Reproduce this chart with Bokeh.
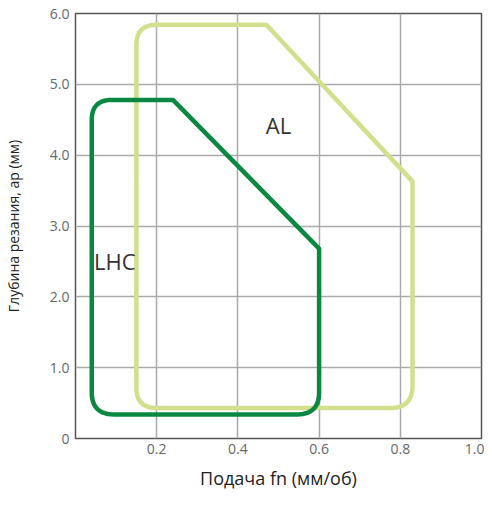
import numpy as np
from bokeh.plotting import figure
from bokeh.models import FixedTicker, CustomJSTickFormatter, ColumnDataSource
from bokeh.core.properties import value
from bokeh.embed import file_html
from bokeh.resources import INLINE

# ---- data ----
lhc_x = [0.04, 0.04, 0.24, 0.60, 0.60]
lhc_y = [0.34, 4.78, 4.78, 2.68, 0.34]
al_x = [0.15, 0.15, 0.47, 0.83, 0.83]
al_y = [0.43, 5.84, 5.84, 3.63, 0.43]
label_text = ["AL", "LHC"]
label_x = [0.50, 0.097]
label_y = [4.42, 2.50]
x_ticks = [0.2, 0.4, 0.6, 0.8, 1.0]
y_ticks = [0, 1, 2, 3, 4, 5, 6]

# ---- style ----
W, H = 484, 492
BL, BR, BT, BB = 71, 3, 13, 46
SX = (W - BL - 10) / 1.0
SY = (H - BT - 55) / 6.0
lhc_r = [22, 20, 0, 0, 22]
al_r = [20, 20, 0, 0, 22]
FONT = "Open Sans"


def rounded(xs, ys, radii, n=14):
    pts = list(zip(xs, ys))
    N = len(pts)
    ox, oy = [], []
    t = np.linspace(0, 1, n)
    for i in range(N):
        x0, y0 = pts[i - 1]
        x1, y1 = pts[i]
        x2, y2 = pts[(i + 1) % N]
        r = radii[i]
        if r == 0:
            ox.append(x1); oy.append(y1)
            continue
        a = np.array([(x0 - x1) * SX, (y0 - y1) * SY])
        b = np.array([(x2 - x1) * SX, (y2 - y1) * SY])
        pa = a / np.linalg.norm(a) * r
        pb = b / np.linalg.norm(b) * r
        px = (1 - t) ** 2 * pa[0] + t ** 2 * pb[0]
        py = (1 - t) ** 2 * pa[1] + t ** 2 * pb[1]
        ox.extend(list(x1 + px / SX)); oy.extend(list(y1 + py / SY))
    ox.append(ox[0]); oy.append(oy[0])
    return ox, oy


p = figure(width=W, height=H, output_backend="svg", toolbar_location=None,
           x_range=(0, 1.0), y_range=(0, 6.0),
           min_border_left=BL, min_border_right=BR, min_border_top=BT, min_border_bottom=BB)

p.outline_line_color = "#555555"
p.outline_line_width = 1.5
p.background_fill_color = "white"
p.border_fill_color = "white"

p.xaxis.ticker = FixedTicker(ticks=x_ticks)
p.yaxis.ticker = FixedTicker(ticks=y_ticks)
p.xaxis.formatter = CustomJSTickFormatter(code="return tick.toFixed(1);")
p.yaxis.formatter = CustomJSTickFormatter(code="return tick == 0 ? '0' : tick.toFixed(1);")
for ax in (p.xaxis, p.yaxis):
    ax.axis_line_color = None
    ax.major_tick_line_color = None
    ax.minor_tick_line_color = None
    ax.major_tick_out = 0
    ax.major_tick_in = 0
    ax.minor_tick_out = 0
    ax.minor_tick_in = 0
    ax.major_label_text_font = FONT
    ax.major_label_text_font_size = "14px"
    ax.major_label_text_color = "#666666"
    ax.axis_label_text_font = FONT
    ax.axis_label_text_font_style = "normal"
    ax.axis_label_text_color = "#222222"
p.xaxis.axis_label = "Подача fn (мм/об)"
p.yaxis.axis_label = "Глубина резания, ар (мм)"
p.xaxis.axis_label_text_font_size = "18px"
p.yaxis.axis_label_text_font_size = "14px"
p.xaxis.major_label_standoff = 5
p.yaxis.major_label_standoff = 6
p.xaxis.axis_label_standoff = 9
p.yaxis.axis_label_standoff = 24

p.xgrid.ticker = FixedTicker(ticks=[0.2, 0.4, 0.6, 0.8])
p.ygrid.ticker = FixedTicker(ticks=[1, 2, 3, 4, 5])
for g in (p.xgrid, p.ygrid):
    g.grid_line_color = "#aaaaaa"
    g.grid_line_width = 1.5

ax_, ay_ = rounded(al_x, al_y, al_r)
p.line(ax_, ay_, line_color="#d3df8c", line_width=4.5, line_join="round")
lx_, ly_ = rounded(lhc_x, lhc_y, lhc_r)
p.line(lx_, ly_, line_color="#0a8841", line_width=4.5, line_join="round")

src = ColumnDataSource(dict(x=label_x, y=label_y, t=label_text))
p.text(x="x", y="y", text="t", source=src, text_font=value(FONT),
       text_font_size="22px", text_color="#333333",
       text_align="center", text_baseline="middle")

open("out.html", "w").write(file_html(p, INLINE))
